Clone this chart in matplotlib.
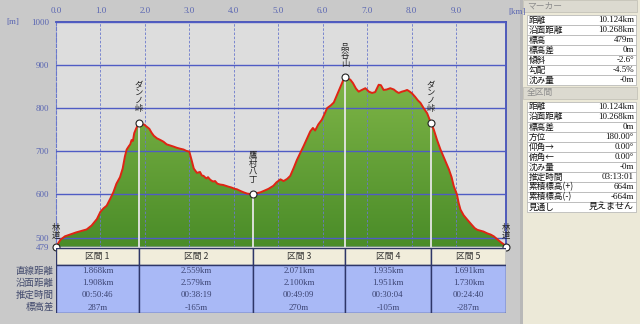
import numpy as np
import matplotlib
matplotlib.use("Agg")
import matplotlib.pyplot as plt
from matplotlib.patches import Rectangle, Polygon
from matplotlib.colors import LinearSegmentedColormap

plt.rcParams['font.family'] = ['Noto Sans CJK JP', 'DejaVu Sans']
SERIF = ['Liberation Serif', 'Noto Sans CJK JP']

# profile (km, m)
dist_km = [0.00, 0.10, 0.20, 0.45, 0.69, 0.80, 0.92, 1.00, 1.07, 1.14, 1.22, 1.29, 1.36, 1.44,
           1.50, 1.55, 1.59, 1.64, 1.67, 1.70, 1.73, 1.76, 1.80, 1.868, 1.92, 1.98, 2.05, 2.10,
           2.15, 2.20, 2.27, 2.35, 2.42, 2.49, 2.55, 2.64, 2.72, 2.79, 2.87, 2.93, 3.00, 3.05,
           3.10, 3.17, 3.24, 3.28, 3.32, 3.38, 3.42, 3.47, 3.53, 3.58, 3.63, 3.69, 3.76, 3.82,
           3.88, 3.95, 4.02, 4.07, 4.15, 4.22, 4.30, 4.38, 4.427, 4.52, 4.60, 4.67, 4.78, 4.89,
           4.96, 5.05, 5.12, 5.20, 5.27, 5.35, 5.42, 5.50, 5.57, 5.65, 5.72, 5.78, 5.83, 5.90,
           5.98, 6.04, 6.10, 6.18, 6.25, 6.32, 6.40, 6.46, 6.498, 6.56, 6.62, 6.68, 6.75, 6.81,
           6.88, 6.96, 7.04, 7.11, 7.18, 7.26, 7.31, 7.37, 7.44, 7.52, 7.60, 7.66, 7.71, 7.78,
           7.85, 7.90, 7.96, 8.01, 8.08, 8.14, 8.20, 8.27, 8.35, 8.433, 8.50, 8.57, 8.65, 8.75,
           8.84, 8.90, 8.95, 9.02, 9.06, 9.10, 9.17, 9.25, 9.35, 9.42, 9.48, 9.55, 9.62, 9.70,
           9.78, 9.85, 9.92, 10.00, 10.08, 10.124]
elev_m = [479, 495, 503, 512, 519, 528, 543, 560, 568, 574, 590, 605, 625, 640,
          660, 688, 704, 712, 716, 726, 724, 742, 752, 766, 762, 762, 756, 752,
          743, 736, 730, 726, 722, 716, 714, 711, 708, 706, 704, 701, 699, 680,
          660, 650, 652, 644, 643, 637, 640, 634, 630, 631, 625, 623, 622, 620,
          618, 616, 613, 612, 608, 605, 602, 601, 601, 603, 605, 608, 613, 620,
          628, 635, 631, 636, 643, 662, 680, 697, 712, 730, 746, 754, 748, 762,
          773, 786, 800, 806, 813, 830, 850, 864, 871, 868, 866, 858, 845, 838,
          842, 846, 838, 835, 837, 854, 853, 842, 843, 846, 843, 838, 835, 838,
          840, 842, 838, 834, 826, 818, 812, 800, 788, 766, 750, 727, 704, 680,
          658, 640, 619, 600, 580, 565, 552, 542, 530, 522, 518, 516, 514, 510,
          507, 503, 497, 490, 484, 479]

marker_names = ['林道', 'ダンノ峠', '鷹村八丁', '品谷山', 'ダンノ峠', '林道']
marker_km = [0.0, 1.868, 4.427, 6.498, 8.433, 10.124]
marker_m = [479, 766, 601, 871, 766, 479]

y_ticks = [479, 500, 600, 700, 800, 900, 1000]
x_ticks = [0, 1, 2, 3, 4, 5, 6, 7, 8, 9]

section_names = ['区間 1', '区間 2', '区間 3', '区間 4', '区間 5']
section_km = [1.868, 2.559, 2.071, 1.935, 1.691]
row_labels = ['直線距離', '沿面距離', '推定時間', '標高差']
straight = ['1.868km', '2.559km', '2.071km', '1.935km', '1.691km']
surface = ['1.908km', '2.579km', '2.100km', '1.951km', '1.730km']
times = ['00:50:46', '00:38:19', '00:49:09', '00:30:04', '00:24:40']
diffs = ['287m', '-165m', '270m', '-105m', '-287m']

marker_labels = ['距離', '沿面距離', '標高', '標高差', '傾斜', '勾配', '沈み量']
marker_values = ['10.124km', '10.268km', '479m', '0m', '-2.6°', '-4.5%', '-0m']
total_labels = ['距離', '沿面距離', '標高差', '方位', '仰角→', '俯角←', '沈み量',
                '推定時間', '累積標高(+)', '累積標高(-)', '見通し']
total_values = ['10.124km', '10.268km', '0m', '180.00°', '0.00°', '0.00°', '-0m',
                '03:13:01', '664m', '-664m', '見えません']

W, H = 640, 324
total = sum(section_km)
tick_col = '#5a66b2'
grid_col = '#4f5cc4'

fig = plt.figure(figsize=(6.4, 3.24), dpi=100, facecolor='#c9c9c9')

# main profile
ax = fig.add_axes([56 / W, 1 - 246.7 / H, 450 / W, 225 / H])
ax.set_facecolor('#dddddd')
outline = Polygon(list(zip(dist_km, elev_m)) + [(dist_km[-1], 479), (0, 479)],
                  closed=True, fc='none', ec='none')
ax.add_patch(outline)
cmap = LinearSegmentedColormap.from_list('g', ['#4a8c28', '#80b648'])
grad = np.linspace(0, 1, 256).reshape(-1, 1)
im = ax.imshow(grad, extent=[0, total, 479, 880], origin='lower', cmap=cmap,
               aspect='auto', zorder=1)
im.set_clip_path(outline)

ax.vlines(marker_km[1:-1], 479, marker_m[1:-1], color='#e6e6e6', lw=1.3, zorder=3)
ax.plot(dist_km, elev_m, color='#e02414', lw=1.4, zorder=4)
ax.plot(marker_km, marker_m, 'o', ms=5, mfc='white', mec='#222222', mew=0.8,
        zorder=5, clip_on=False)

for name, x, y in zip(marker_names, marker_km, marker_m):
    off = 5 if name == '林道' else 7
    ax.annotate('\n'.join(name), (x, y), xytext=(0, off), textcoords='offset points',
                ha='center', va='bottom', fontsize=6, linespacing=0.85,
                color='#222222', zorder=6)

ax.set_xlim(0, total)
ax.set_ylim(479, 1000)
ax.set_yticks(y_ticks)
ax.set_yticklabels([str(v) for v in y_ticks], family=SERIF, fontsize=6.5, color=tick_col)
ax.xaxis.tick_top()
ax.set_xticks(x_ticks)
ax.set_xticklabels(['%.1f' % v for v in x_ticks], family=SERIF, fontsize=6.5, color=tick_col)
ax.tick_params(length=0, pad=5)
ax.set_axisbelow(False)
ax.yaxis.grid(True, color=grid_col, lw=1.0, ls='-')
ax.xaxis.grid(True, color='#6a78cc', lw=0.6, ls=(0, (3, 2)))
for s in ['top', 'right']:
    ax.spines[s].set_color('#4450b8')
    ax.spines[s].set_linewidth(1.3)
ax.spines['left'].set_color('#6a78cc')
ax.spines['left'].set_linestyle((0, (3, 2)))
ax.spines['bottom'].set_visible(False)
fig.text(6 / W, 1 - 22 / H, '[m]', family=SERIF, fontsize=6.5, color=tick_col, va='center')
fig.text(508 / W, 1 - 12 / H, '[km]', family=SERIF, fontsize=6.5, color=tick_col, va='center')

# section table
tax = fig.add_axes([56 / W, 1 - 313 / H, 450 / W, 65 / H])
tax.set_xlim(0, total)
tax.set_ylim(65, 0)
tax.axis('off')
bounds = np.concatenate([[0], np.cumsum(section_km)])
rows = [straight, surface, times, diffs]
for i, name in enumerate(section_names):
    x0, x1 = bounds[i], bounds[i + 1]
    tax.add_patch(Rectangle((x0, 0), x1 - x0, 17, fc='#f1eddb', ec='#2e3668', lw=1.0))
    tax.add_patch(Rectangle((x0, 17), x1 - x0, 48, fc='#a9b9f6', ec='#2e3668', lw=1.0))
    tax.text((x0 + x1) / 2, 9, name, ha='center', va='center', fontsize=6.3, color='#333333')
    for r, vals in enumerate(rows):
        tax.text((x0 + x1) / 2, 23 + 12.2 * r, vals[i], ha='center', va='center',
                 family=SERIF, fontsize=6.3, color='#3a4270')
for r, lab in enumerate(row_labels):
    tax.text(-0.05, 23 + 12.2 * r, lab, ha='right', va='center', fontsize=6.8,
             color='#434b6e', clip_on=False)

# right info panel
pax = fig.add_axes([520 / W, 0, 120 / W, 1])
pax.set_xlim(520, 640)
pax.set_ylim(324, 0)
pax.axis('off')
pax.add_patch(Rectangle((520, 0), 3, 324, fc='#b8b8b8', ec='none'))
pax.add_patch(Rectangle((523, 0), 117, 324, fc='#ece9d8', ec='none'))


def panel_block(title, top, labels, values):
    pax.add_patch(Rectangle((523, top), 114, 12, fc='#dcdad0', ec='#c4c2b8', lw=0.6))
    pax.text(527, top + 6, title, va='center', fontsize=6.3, color='#8c8c8c')
    y0 = top + 15
    for k, (lab, val) in enumerate(zip(labels, values)):
        y = y0 + 10 * k
        pax.add_patch(Rectangle((527, y), 109, 10, fc='white', ec='#b0b0b0', lw=0.5))
        pax.text(529, y + 5, lab, va='center', fontsize=6.2, color='#111111')
        pax.text(634, y + 5, val, va='center', ha='right', family=SERIF,
                 fontsize=6.5, color='#111111')


panel_block('マーカー', 0, marker_labels, marker_values)
panel_block('全区間', 87, total_labels, total_values)

fig.savefig('out.png', dpi=100, facecolor=fig.get_facecolor())
